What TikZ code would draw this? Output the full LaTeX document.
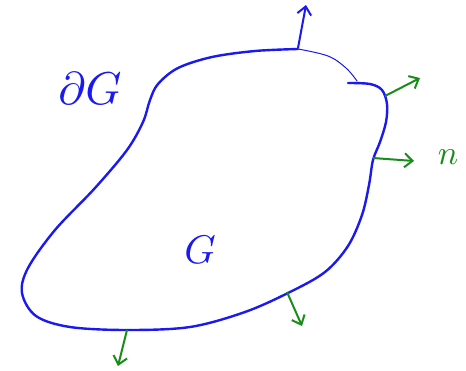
\documentclass[tikz,border=0pt]{standalone}
\usepackage{amsmath,amssymb}
\usetikzlibrary{arrows.meta}
\definecolor{penblue}{RGB}{25,25,240}
\definecolor{pengreen}{RGB}{25,140,25}
\tikzset{
  boundary/.style={penblue, line width=2.4pt, line cap=round, line join=round},
  thin boundary/.style={penblue, line width=1pt, line cap=round},
  normal/.style={-{Straight Barb[length=8pt,width=14pt]}, pengreen, line width=2pt},
  up normal/.style={-{Straight Barb[length=8pt,width=14pt]}, penblue, line width=2pt},
  label text/.style={penblue},
}

\begin{document}
\begin{tikzpicture}[x=1pt, y=-1pt]

  \useasboundingbox (0,0) rectangle (466,370);

  % Boundary dG (thick part, starting at the hook)
  \draw[boundary] plot[smooth, tension=0.55] coordinates {
    (348,83) (370,84) (382,90) (387,104) (386,122) (380,142) (373,160)
    (369,185) (362,215) (348,246) (325,272) (290,292) (245,312) (190,327)
    (127,330) (70,327) (36,316) (22,293) (28,268) (55,230) (95,188)
    (127,150) (143,122) (150,100) (158,84) (178,68) (212,57) (255,51) (298,49)};

  % thin end of the top stroke
  \draw[thin boundary] plot[smooth, tension=0.6] coordinates {
    (298,49) (328,56) (346,68) (357,81)};

  % Points on dG and arrow ends
  \coordinate (top) at (298,48);
  \coordinate (topend) at (306,5);
  \coordinate (p1) at (385,96);
  \coordinate (p1end) at (420,78);
  \coordinate (p2) at (373,158);
  \coordinate (p2end) at (414,161);
  \coordinate (p3) at (287,292);
  \coordinate (p3end) at (302,326);
  \coordinate (p4) at (127,330);
  \coordinate (p4end) at (118,366);

  % Normals
  \draw[up normal] (top) -- (topend);
  \foreach \P/\Q in {p1/p1end, p2/p2end, p3/p3end, p4/p4end} {
    \draw[normal] (\P) -- (\Q);
  }

  % Labels
  \node[label text, scale=4.6] (dG) at (90,89) {$\partial G$};
  \node[label text, scale=4.0] (G) at (200,250) {$G$};
  \node[pengreen, scale=3.4] (n) at (448,157) {$n$};

\end{tikzpicture}
\end{document}
